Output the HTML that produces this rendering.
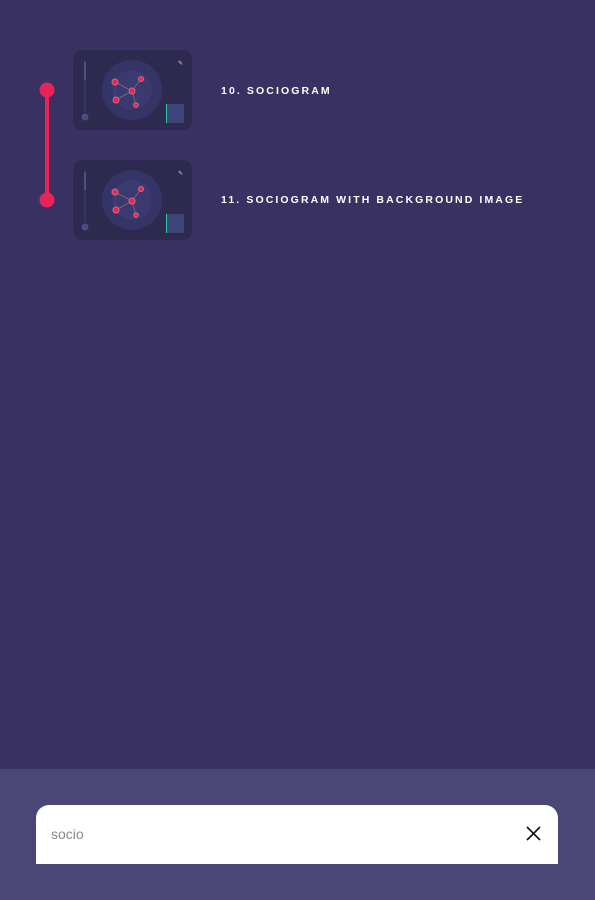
<!DOCTYPE html>
<html><head><meta charset="utf-8"><style>
body{margin:0;width:595px;height:900px;background:#383161;position:relative;overflow:hidden;font-family:"Liberation Sans",sans-serif}
.lbl{position:absolute;left:221px;color:#fff;font-weight:bold;font-size:10.5px;letter-spacing:2.1px;line-height:12px;white-space:nowrap}
.thumb{position:absolute;left:73px;width:119px;height:80px}
</style></head><body>
<svg width="595" height="300" style="position:absolute;left:0;top:0">
<line x1="47" y1="90" x2="47" y2="200" stroke="#e8235a" stroke-width="4"/>
<circle cx="47" cy="90" r="7.5" fill="#e8235a"/>
<circle cx="47" cy="200" r="7.5" fill="#e8235a"/>
</svg>
<svg class="thumb" style="top:50px" viewBox="0 0 119 80">
<g id="t"><rect width="119" height="80" rx="9" fill="#2e2a4f"/>
<circle cx="59" cy="40" r="30" fill="#353466"/><circle cx="59" cy="40" r="20" fill="#3a3a70"/>
<line x1="12" y1="10" x2="12" y2="62" stroke="#3b3868" stroke-width="1.5"/><line x1="12" y1="12" x2="12" y2="30" stroke="#5a5886" stroke-width="1.5"/>
<circle cx="12" cy="67" r="3.5" fill="#4a4a85"/>
<g stroke="#8a6a6a" stroke-width="0.8"><line x1="42" y1="32" x2="59" y2="41"/><line x1="68" y1="29" x2="59" y2="41"/><line x1="43" y1="50" x2="59" y2="41"/><line x1="63" y1="55" x2="59" y2="41"/><line x1="42" y1="32" x2="43" y2="50" stroke="#6a3a6a"/></g>
<g fill="#e8235a" stroke="#d06a80" stroke-width="1"><circle cx="42" cy="32" r="3"/><circle cx="59" cy="41" r="3"/><circle cx="43" cy="50" r="3"/><circle cx="68" cy="29" r="2.5"/><circle cx="63" cy="55" r="2.3"/></g>
<rect x="93" y="54" width="18" height="19" fill="#3d4478"/><rect x="93" y="54" width="1" height="19" fill="#2fc7a0"/>
<text x="105" y="15" font-size="6" fill="#ccc" font-family="Liberation Sans">✎</text></g>
</svg>
<svg class="thumb" style="top:160px" viewBox="0 0 119 80"><use href="#t"/></svg>
<div class="lbl" style="top:85px">10. SOCIOGRAM</div>
<div class="lbl" style="top:194px">11. SOCIOGRAM WITH BACKGROUND IMAGE</div>
<div style="position:absolute;left:0;top:769px;width:595px;height:131px;background:#4a4676">
<div style="position:absolute;left:36px;top:36px;width:522px;height:59px;background:#fff;border-radius:13px 13px 0 0">
<span style="position:absolute;left:15px;top:21px;font-size:14px;color:#888">socio</span>
<svg style="position:absolute;left:490px;top:21px" width="15" height="15"><path d="M1 1L14 14M14 1L1 14" stroke="#111" stroke-width="1.6"/></svg>
</div></div>
</body></html>
